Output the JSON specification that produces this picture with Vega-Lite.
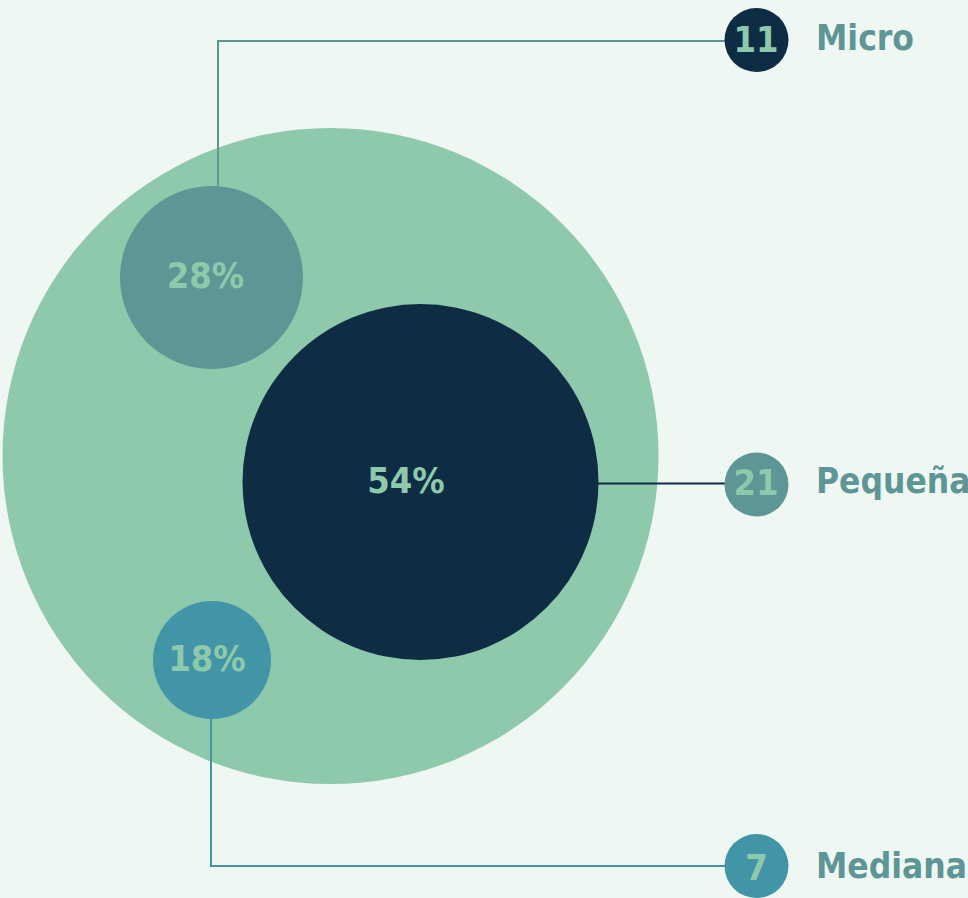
{
  "$schema": "https://vega.github.io/schema/vega-lite/v6.json",
  "width": 968,
  "height": 898,
  "autosize": "none",
  "padding": 0,
  "background": "#EFF7F3",
  "config": {"view": {"stroke": null}},
  "datasets": {
    "circles": [
      {"name": "Total", "x": 330.5, "y": 456, "r": 328, "tone": "light"},
      {"name": "Pequeña %", "x": 420.5, "y": 482, "r": 178, "tone": "dark"},
      {"name": "Micro %", "x": 211.5, "y": 277.5, "r": 91.5, "tone": "mid"},
      {"name": "Mediana %", "x": 212, "y": 660, "r": 59, "tone": "teal"},
      {"name": "Micro n", "x": 756.5, "y": 40, "r": 32, "tone": "dark"},
      {"name": "Pequeña n", "x": 756.5, "y": 484.5, "r": 32, "tone": "mid"},
      {"name": "Mediana n", "x": 756.5, "y": 866, "r": 32, "tone": "teal"}
    ],
    "lines": [
      {"line": "Micro", "order": 1, "x": 218, "y": 190, "tone": "mid"},
      {"line": "Micro", "order": 2, "x": 218, "y": 41, "tone": "mid"},
      {"line": "Micro", "order": 3, "x": 730, "y": 41, "tone": "mid"},
      {"line": "Pequeña", "order": 1, "x": 590, "y": 483.5, "tone": "dark"},
      {"line": "Pequeña", "order": 2, "x": 730, "y": 483.5, "tone": "dark"},
      {"line": "Mediana", "order": 1, "x": 211, "y": 715, "tone": "teal"},
      {"line": "Mediana", "order": 2, "x": 211, "y": 866, "tone": "teal"},
      {"line": "Mediana", "order": 3, "x": 730, "y": 866, "tone": "teal"}
    ],
    "texts": [
      {"label": "28%", "x": 205.5, "y": 288, "kind": "value", "tone": "light"},
      {"label": "54%", "x": 406, "y": 493, "kind": "value", "tone": "light"},
      {"label": "18%", "x": 207, "y": 671, "kind": "value", "tone": "light"},
      {"label": "11", "x": 756, "y": 52, "kind": "value", "tone": "light"},
      {"label": "21", "x": 756, "y": 495, "kind": "value", "tone": "light"},
      {"label": "7", "x": 756.5, "y": 880, "kind": "value", "tone": "light"},
      {"label": "Micro", "x": 816, "y": 50, "kind": "name", "tone": "mid"},
      {"label": "Pequeña", "x": 816, "y": 493, "kind": "name", "tone": "mid"},
      {"label": "Mediana", "x": 816, "y": 878, "kind": "name", "tone": "mid"}
    ]
  },
  "encoding": {
    "x": {"field": "x", "type": "quantitative", "axis": null, "scale": {"domain": [0, 968], "nice": false, "zero": false}},
    "y": {"field": "y", "type": "quantitative", "axis": null, "scale": {"domain": [0, 898], "nice": false, "zero": false, "reverse": true}},
    "color": {"field": "tone", "type": "nominal", "legend": null, "scale": {"domain": ["light", "dark", "mid", "teal"], "range": ["#8FC9AC", "#0E2D44", "#5E9595", "#4195A6"]}}
  },
  "layer": [
    {
      "data": {"name": "circles"},
      "transform": [{"filter": "datum.name === 'Total'"}],
      "mark": {"type": "circle", "opacity": 1},
      "encoding": {
        "size": {"field": "r", "type": "quantitative", "legend": null, "scale": {"type": "pow", "exponent": 2, "domain": [0, 328], "range": [0, 430336]}}
      }
    },
    {
      "data": {"name": "lines"},
      "mark": {"type": "line", "strokeWidth": 2},
      "encoding": {
        "detail": {"field": "line", "type": "nominal"},
        "order": {"field": "order", "type": "quantitative"}
      }
    },
    {
      "data": {"name": "circles"},
      "transform": [{"filter": "datum.name !== 'Total'"}],
      "mark": {"type": "circle", "opacity": 1},
      "encoding": {
        "size": {"field": "r", "type": "quantitative", "legend": null, "scale": {"type": "pow", "exponent": 2, "domain": [0, 328], "range": [0, 430336]}}
      }
    },
    {
      "data": {"name": "texts"},
      "transform": [{"filter": "datum.kind === 'value'"}],
      "mark": {"type": "text", "align": "center", "baseline": "alphabetic", "font": "DejaVu Sans Condensed, DejaVu Sans", "fontWeight": "bold", "fontSize": 36},
      "encoding": {"text": {"field": "label", "type": "nominal"}}
    },
    {
      "data": {"name": "texts"},
      "transform": [{"filter": "datum.kind === 'name'"}],
      "mark": {"type": "text", "align": "left", "baseline": "alphabetic", "font": "DejaVu Sans Condensed, DejaVu Sans", "fontWeight": "bold", "fontSize": 35},
      "encoding": {"text": {"field": "label", "type": "nominal"}}
    }
  ]
}
